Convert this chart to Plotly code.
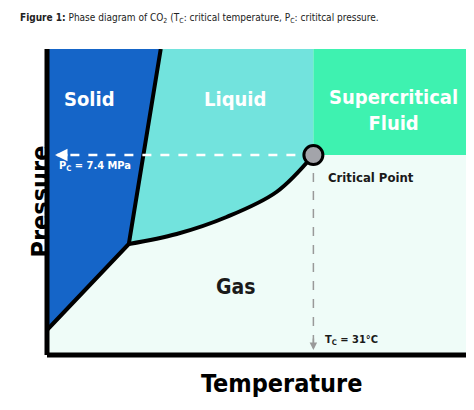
import plotly.graph_objects as go

# Phase boundaries (schematic units)
sublim_x = [0, 82]
sublim_y = [25, 111]
melt_x = [82, 114]
melt_y = [111, 306]
vap_x = [82, 130, 180, 230, 267]
vap_y = [111, 121, 138, 163, 200]
crit_x, crit_y = 267, 200
xmax, ymax = 436, 306

FONT = "DejaVu Sans Condensed, Roboto Condensed, Roboto, sans-serif"
fig = go.Figure()

def poly(xs, ys, color):
    fig.add_trace(go.Scatter(x=xs, y=ys, fill="toself", fillcolor=color, mode="none",
                             hoverinfo="skip", showlegend=False))

poly(sublim_x + melt_x[1:] + [0, 0], sublim_y + melt_y[1:] + [ymax, sublim_y[0]], "#1565c8")
poly([melt_x[1]] + vap_x + [crit_x, melt_x[1]], [melt_y[1]] + vap_y + [ymax, melt_y[1]], "#72e3dd")
poly([crit_x, xmax, xmax, crit_x, crit_x], [crit_y, crit_y, ymax, ymax, crit_y], "#3ef2b0")

fig.add_trace(go.Scatter(x=sublim_x + melt_x[1:], y=sublim_y + melt_y[1:], mode="lines",
                         line=dict(color="black", width=4), hoverinfo="skip", showlegend=False))
fig.add_trace(go.Scatter(x=vap_x, y=vap_y, mode="lines", line=dict(color="black", width=4, shape="spline"),
                         hoverinfo="skip", showlegend=False))

fig.add_trace(go.Scatter(x=[crit_x, 10], y=[crit_y, crit_y], mode="lines",
                         line=dict(color="white", width=2.5, dash="dash"), hoverinfo="skip", showlegend=False))
fig.add_trace(go.Scatter(x=[crit_x, crit_x], y=[crit_y, 8], mode="lines",
                         line=dict(color="#999999", width=1.5, dash="dash"), hoverinfo="skip", showlegend=False))
fig.add_annotation(x=8, y=crit_y, ax=22, ay=crit_y, xref="x", yref="y", axref="x", ayref="y",
                   showarrow=True, arrowhead=2, arrowsize=1, arrowwidth=2.5, arrowcolor="white", text="")
fig.add_annotation(x=crit_x, y=5, ax=crit_x, ay=18, xref="x", yref="y", axref="x", ayref="y",
                   showarrow=True, arrowhead=2, arrowsize=1, arrowwidth=1.5, arrowcolor="#999999", text="")

fig.add_trace(go.Scatter(x=[crit_x], y=[crit_y], mode="markers",
                         marker=dict(size=19, color="#a3a4aa", line=dict(color="black", width=3)),
                         hoverinfo="skip", showlegend=False))

def txt(x, y, s, size, color="white", xanchor="center"):
    fig.add_annotation(x=x, y=y, text=s, showarrow=False, xanchor=xanchor,
                       font=dict(family=FONT, size=size, color=color))

txt(43, 256, "<b>Solid</b>", 20)
txt(188, 256, "<b>Liquid</b>", 20)
txt(347, 245, "<b>Supercritical<br>Fluid</b>", 20)
txt(280, 178, "<b>Critical Point</b>", 13, "#1a1a1a", "left")
txt(189, 68, "<b>Gas</b>", 21, "#1a1a1a")
txt(10, 189, "<b>P<sub>C</sub> = 7.4 MPa</b>", 11, "white", "left")
txt(277, 15, "<b>T<sub>C</sub> = 31°C</b>", 11, "#1a1a1a", "left")

fig.update_xaxes(range=[0, xmax], visible=False, fixedrange=True)
fig.update_yaxes(range=[0, ymax], visible=False, fixedrange=True)
fig.add_shape(type="line", xref="paper", yref="paper", x0=0, x1=0, y0=0, y1=1, line=dict(color="black", width=5))
fig.add_shape(type="line", xref="paper", yref="paper", x0=0, x1=1, y0=0, y1=0, line=dict(color="black", width=5))

fig.add_annotation(xref="paper", yref="paper", x=-0.055, y=0.5, text="<b>Pressure</b>", textangle=-90,
                   showarrow=False, font=dict(family=FONT, size=25, color="black"))
fig.add_annotation(xref="paper", yref="paper", x=0.54, y=-0.092, yanchor="middle", text="<b>Temperature</b>",
                   showarrow=False, font=dict(family=FONT, size=25, color="black"))
fig.add_annotation(xref="paper", yref="paper", x=-0.067, y=1.1, xanchor="left", yanchor="middle",
                   text="<b>Figure 1:</b> Phase diagram of CO<sub>2</sub> (T<sub>C</sub>: critical temperature, P<sub>C</sub>: crititcal pressure.",
                   showarrow=False, font=dict(family=FONT, size=10, color="#222"))

fig.update_layout(width=474, height=410, margin=dict(l=39, r=0, t=41, b=63, autoexpand=False),
                  plot_bgcolor="#effcf8", paper_bgcolor="white")
fig.write_html("out.html")
